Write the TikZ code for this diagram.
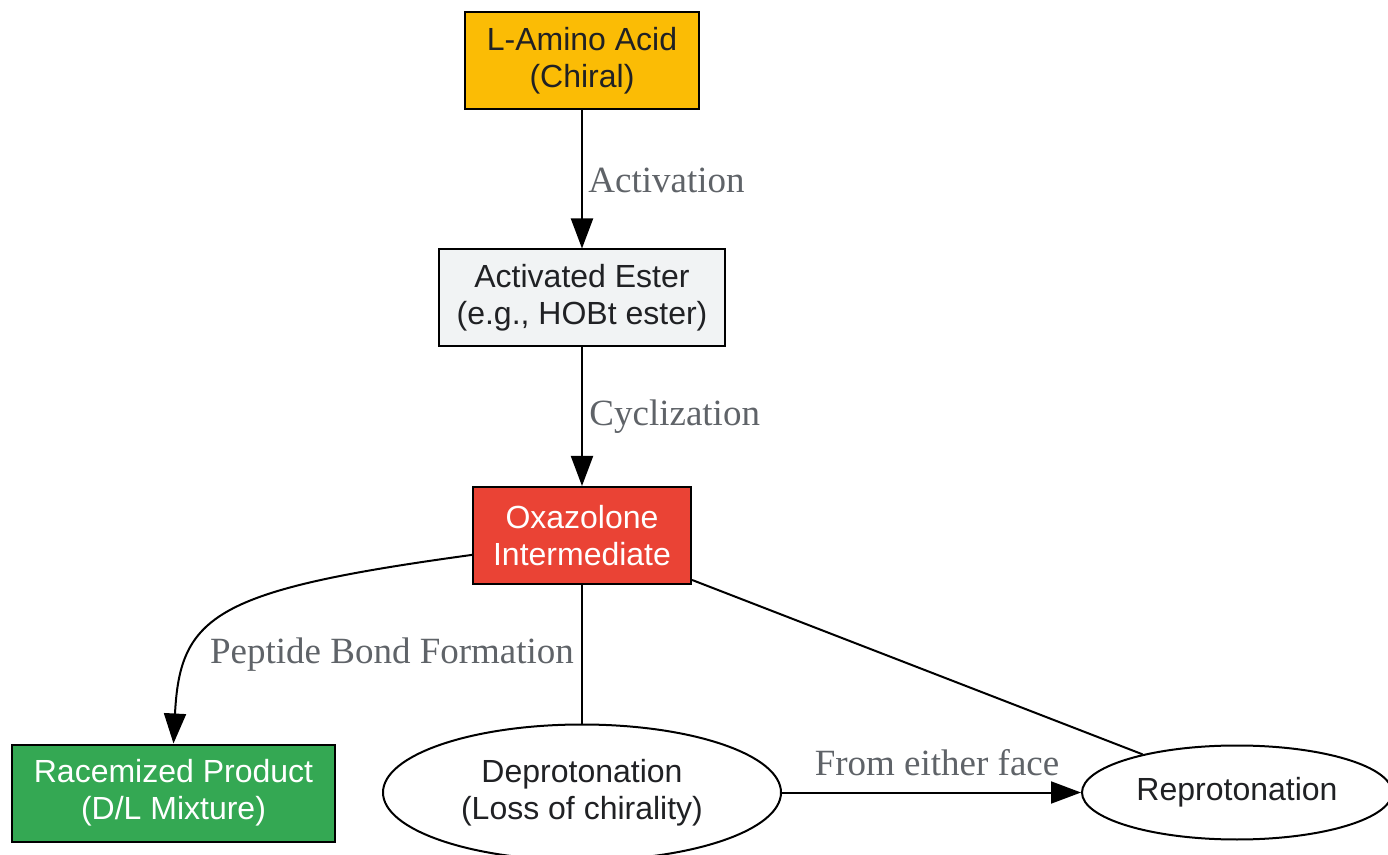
\documentclass[tikz,border=0pt]{standalone}
\usepackage{fontspec}
\setmainfont{Liberation Serif}
\setsansfont{Liberation Sans}
\usepackage{tikz}
\usetikzlibrary{arrows.meta}
\usetikzlibrary{shapes.geometric}
\tikzset{>={Triangle[length=15pt,width=11pt]}}
\definecolor{amber}{HTML}{FBBC05}
\definecolor{pale}{HTML}{F1F3F4}
\definecolor{brick}{HTML}{EA4335}
\definecolor{leaf}{HTML}{34A853}
\definecolor{ink}{HTML}{202124}
\definecolor{slate}{HTML}{5F6368}
\tikzset{
    box/.style={draw, line width=1pt, minimum width=117pt, minimum height=48.5pt,
        align=center, text=ink, font=\sffamily\fontsize{16}{18.5}\selectfont},
    oval/.style={draw, ellipse, line width=1pt, fill=white, align=center, text=ink,
        font=\sffamily\fontsize{16}{18.5}\selectfont},
    lbl/.style={text=slate, font=\fontsize{18.5}{20}\selectfont, inner sep=0pt},
    link/.style={line width=1pt}
}

\begin{document}
\begin{tikzpicture}[x=0.5pt, y=-0.5pt]
    \useasboundingbox (0,0) rectangle (1388,855);
    %nodes of the pathway
    \node[box, fill=amber] (amino) at (582,61) {L-Amino Acid\\(Chiral)};
    \node[box, fill=pale, minimum width=143pt] (ester) at (582,298) {Activated Ester\\(e.g., HOBt ester)};
    \node[box, fill=brick, minimum width=109pt, text=white] (oxa) at (582,535.5) {Oxazolone\\Intermediate};
    \node[box, fill=leaf, minimum width=161.5pt, text=white] (race) at (173.5,793) {Racemized Product\\(D/L Mixture)};
    \node[oval, minimum width=199pt, minimum height=68pt] (deprot) at (582,792.5) {Deprotonation\\(Loss of chirality)};
    \node[oval, minimum width=155pt, minimum height=47pt] (reprot) at (1237,792.5) {Reprotonation};
    %connectors
    \draw[link, ->] (amino) -- (ester);
    \draw[link, ->] (ester) -- (oxa);
    \draw[link, ->] (oxa.190) .. controls (215,590) and (180,615) .. (race.north);
    \draw[link] (oxa) -- (deprot);
    \draw[link, ->] (deprot) -- (reprot);
    \draw[link] (oxa.-22) -- (reprot.158);
    %edge labels
    \node[lbl, anchor=west] (lact) at (588,180) {Activation};
    \node[lbl, anchor=west] (lcyc) at (589,417) {Cyclization};
    \node[lbl] (lpep) at (392,655) {Peptide Bond Formation};
    \node[lbl] (lface) at (937,763) {From either face};
\end{tikzpicture}
\end{document}
